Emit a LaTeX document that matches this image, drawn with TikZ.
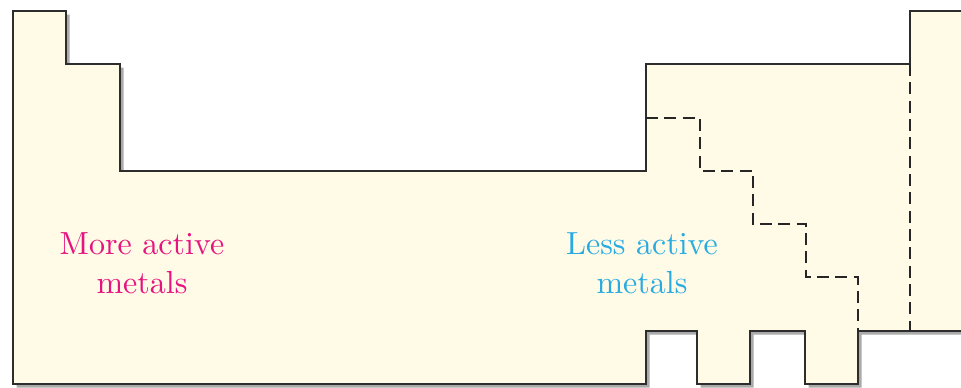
\documentclass[tikz,border=0pt]{standalone}
\usepackage{tikz}
\definecolor{tablefill}{RGB}{255,251,231}
\definecolor{edgegray}{RGB}{45,45,45}
\definecolor{shadowgray}{RGB}{170,170,170}
\definecolor{activepink}{RGB}{230,20,128}
\definecolor{lessblue}{RGB}{41,171,226}
\tikzset{
  tablearea/.style={
    fill=tablefill,
    preaction={fill=shadowgray, transform canvas={xshift=1.1pt, yshift=-1.1pt}}
  },
  tableline/.style={draw=edgegray, line width=0.5pt, line join=miter},
  splitline/.style={draw=black!85, line width=0.5pt, dash pattern=on 3.6pt off 1.9pt},
  metallabel/.style={font=\fontsize{9.6}{11.7}\selectfont, align=center, inner sep=0pt}
}
% outline of the table, open on the right side
\newcommand{\tableedge}{(961,11) -- (910,11) -- (910,64) -- (646,64) -- (646,171)
  -- (120,171) -- (120,64) -- (66,64) -- (66,11) -- (13,11) -- (13,384)
  -- (646,384) -- (646,331) -- (697,331) -- (697,384) -- (750,384) -- (750,331)
  -- (805,331) -- (805,384) -- (858,384) -- (858,331) -- (961,331)}

\begin{document}
\begin{tikzpicture}[x=0.3pt, y=-0.3pt]
  \useasboundingbox (0,0) rectangle (961,387);

  \path[tablearea] \tableedge -- cycle;
  \draw[tableline] \tableedge;

  % metal / nonmetal borders
  \draw[splitline] (646,118) -- (700,118) -- (700,171) -- (753,171) -- (753,224)
    -- (806,224) -- (806,277) -- (858,277) -- (858,331);
  \draw[splitline] (910,64) -- (910,331);

  \node[metallabel, text=activepink] (moreact) at (142,263) {More active\\metals};
  \node[metallabel, text=lessblue] (lessact) at (642,263) {Less active\\metals};
\end{tikzpicture}
\end{document}
